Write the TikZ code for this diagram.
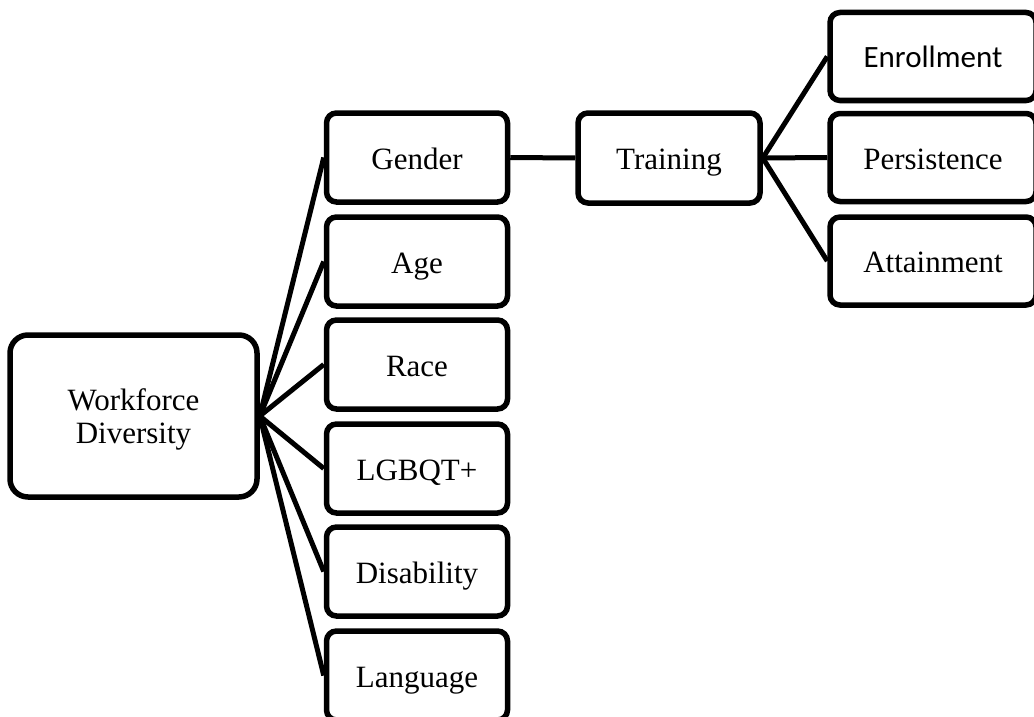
\documentclass[tikz,border=0pt]{standalone}
\usepackage{fontspec}
\setmainfont{Liberation Serif}
\newfontfamily\calibrifont{Carlito}
\begin{document}
\begin{tikzpicture}[x=1pt,y=-1pt,
  box/.style={draw=black,line width=5.5pt,rounded corners=10pt,fill=white,
    align=center,inner sep=0pt,text height=30pt,text depth=7pt,
    font=\fontsize{31}{33}\selectfont},
  leftbox/.style={box,minimum width=181pt,minimum height=89pt},
  rightbox/.style={box,minimum width=206pt,minimum height=88pt},
  link/.style={line width=5pt}]
\useasboundingbox (0,0) rectangle (1034,717);
\clip (0,0) rectangle (1034,717);
% root
\node[box,rounded corners=18pt,minimum width=247pt,minimum height=162pt,
  text height=62pt,text depth=7pt] (wd) at (133.5,416) {Workforce\\Diversity};
% first level
\node[leftbox] (gender) at (417,157.5) {Gender};
\node[leftbox] (age) at (417,261.5) {Age};
\node[leftbox] (race) at (417,364.5) {Race};
\node[leftbox] (lgbqt) at (417,468.5) {LGBQT+};
\node[leftbox] (disab) at (417,571.5) {Disability};
\node[leftbox] (lang) at (417,675.5) {Language};
% training branch
\node[leftbox,minimum width=182pt,minimum height=90pt] (train) at (669,158) {Training};
\node[rightbox,font=\calibrifont\fontsize{31}{33}\selectfont] (enrol) at (933,56.5) {Enrollment};
\node[rightbox] (persist) at (933,157.5) {Persistence};
\node[rightbox] (attain) at (933,261) {Attainment};
% connectors
\foreach \n in {gender,age,race,lgbqt,disab,lang}
  \draw[link] (wd.east) -- (\n.west);
\draw[link] (gender.east) -- (train.west);
\foreach \n in {enrol,persist,attain}
  \draw[link] (train.east) -- (\n.west);
\end{tikzpicture}
\end{document}
